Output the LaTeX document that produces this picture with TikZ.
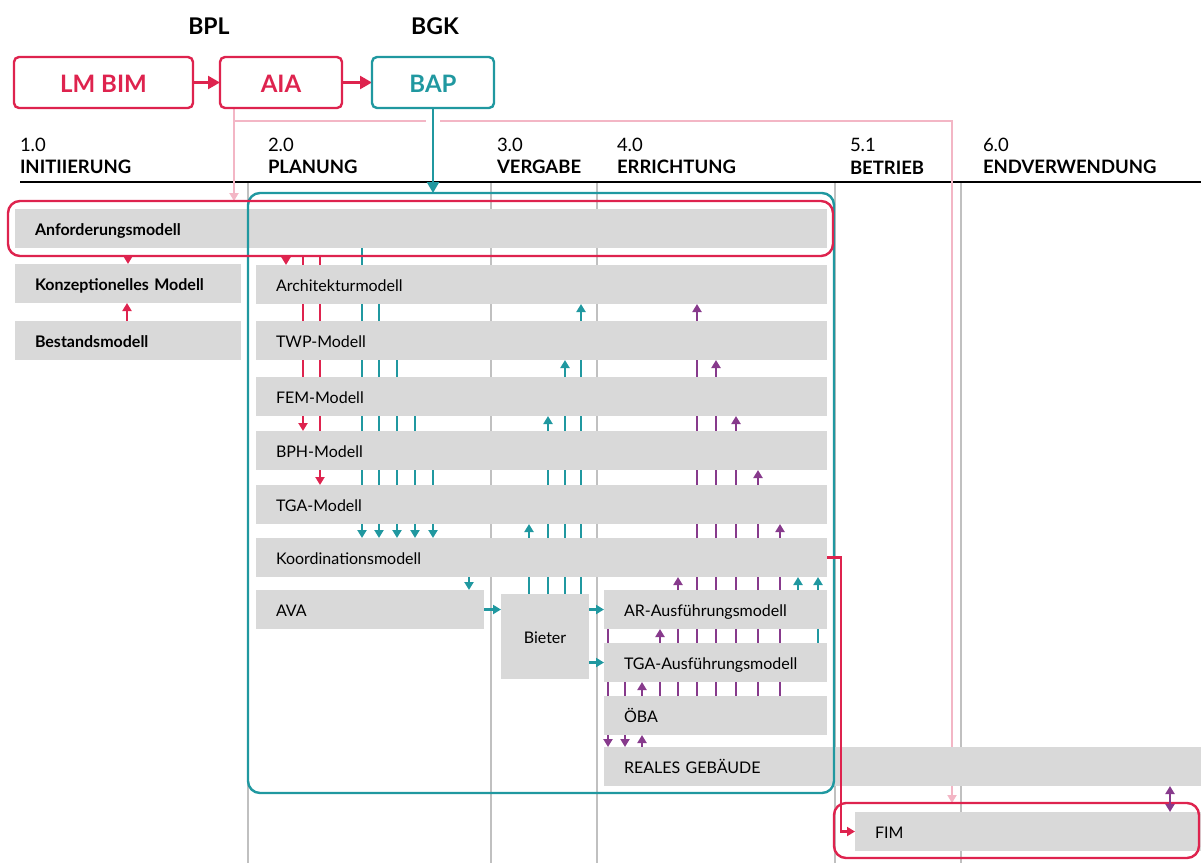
\documentclass[tikz,border=0pt]{standalone}
\usepackage{fontspec}
\setmainfont{Lato}
\usetikzlibrary{arrows.meta, positioning, calc, backgrounds}
\definecolor{crimson}{RGB}{222,35,78}
\definecolor{tealc}{RGB}{32,152,160}
\definecolor{plum}{RGB}{135,58,140}
\definecolor{blush}{RGB}{243,182,197}
\definecolor{boxgray}{RGB}{217,217,217}
\definecolor{rulegray}{RGB}{192,192,192}

\begin{document}
\begin{tikzpicture}[
    x=1pt, y=-1pt,
    every node/.style={inner sep=0pt, outer sep=0pt},
    model/.style={fill=boxgray, anchor=north west, minimum height=39pt, inner xsep=20pt,
                  text width=#1, align=left, text height=13pt, text depth=0pt,
                  font=\fontsize{16}{19}\selectfont},
    keymodel/.style={model=#1, font=\fontsize{16}{19}\selectfont\bfseries},
    topbox/.style={draw=#1, text=#1, line width=2.4pt, rounded corners=5pt, anchor=north west,
                   minimum height=51pt, text height=20pt, text depth=0pt,
                   font=\fontsize{24}{28}\selectfont\bfseries},
    frame/.style={draw=#1, line width=2.4pt, rounded corners=12pt, anchor=north west},
    link/.style={draw=#1, line width=2.4pt, -{Triangle[width=9pt, length=8pt]}},
    plain/.style={draw=#1, line width=2.4pt},
    phnum/.style={anchor=base west, font=\fontsize{18.5}{22}\selectfont},
    phname/.style={anchor=base west, font=\fontsize{18.5}{22}\selectfont\bfseries},
    role/.style={anchor=base, font=\fontsize{23}{26}\selectfont\bfseries}
]
    \useasboundingbox (0,0) rectangle (1201,863);

    % Roles and process boxes on top
    \node[role] (bpl) at (209,34) {BPL};
    \node[role] (bgk) at (435,34) {BGK};
    \node[topbox=crimson, minimum width=179pt] (lmbim) at (14,57) {LM BIM};
    \node[topbox=crimson, minimum width=122pt] (aia) at (220,57) {AIA};
    \node[topbox=tealc, minimum width=122pt] (bap) at (372,57) {BAP};

    % Phases
    \node[phnum] (n1) at (20,151) {1.0};
    \node[phname] (h1) at (20,173) {INITIIERUNG};
    \node[phnum] (n2) at (268,151) {2.0};
    \node[phname] (h2) at (268,173) {PLANUNG};
    \node[phnum] (n3) at (497,151) {3.0};
    \node[phname] (h3) at (497,173) {VERGABE};
    \node[phnum] (n4) at (617,151) {4.0};
    \node[phname] (h4) at (617,173) {ERRICHTUNG};
    \node[phnum] (n5) at (850,151) {5.1};
    \node[phname] (h5) at (850,174) {BETRIEB};
    \node[phnum] (n6) at (983,151) {6.0};
    \node[phname] (h6) at (983,173) {ENDVERWENDUNG};

    % Models
    \node[keymodel=772pt] (anf) at (15,209) {Anforderungsmodell};
    \node[keymodel=186pt] (konz) at (15,264) {Konzeptionelles Modell};
    \node[keymodel=186pt] (best) at (15,321) {Bestandsmodell};
    \node[model=531pt] (arch) at (256,265) {Architekturmodell};
    \node[model=531pt] (twp) at (256,321) {TWP-Modell};
    \node[model=531pt] (fem) at (256,377) {FEM-Modell};
    \node[model=531pt] (bph) at (256,431) {BPH-Modell};
    \node[model=531pt] (tga) at (256,485) {TGA-Modell};
    \node[model=531pt] (koord) at (256,538) {Koordinationsmodell};
    \node[model=188pt] (ava) at (256,590) {AVA};
    \node[model=48pt, align=center, minimum height=85pt] (bieter) at (501,594) {Bieter};
    \node[model=183pt] (arausf) at (604,590) {AR-Ausführungsmodell};
    \node[model=183pt] (tgaausf) at (604,643) {TGA-Ausführungsmodell};
    \node[model=183pt] (oeba) at (604,696) {ÖBA};
    \node[model=557pt] (real) at (604,747) {REALES GEBÄUDE};
    \node[model=306pt] (fim) at (855,812) {FIM};

    % Frames
    \node[frame=tealc, minimum width=586pt, minimum height=600pt] (bapframe) at (248,193) {};
    \node[frame=crimson, minimum width=825pt, minimum height=55pt] (anfframe) at (8,201) {};
    \node[frame=crimson, minimum width=365pt, minimum height=55pt] (fimframe) at (834,803) {};
    \coordinate (fork) at (234,121);

    \begin{scope}[on background layer]
        % phase rules
        \foreach \x in {248,491,597,835,961}
            \draw[rulegray, line width=2.8pt] (\x,183) -- (\x,863);
        \draw[black, line width=2.8pt] (20,182) -- (1201,182);

        % AIA requirements
        \draw[plain=blush] (234,0 |- aia.south) -- (fork);
        \draw[link=blush] (fork) -- (234,0 |- anfframe.north);
        \draw[link=blush] (fork) -- (952,121) -- (952,0 |- fimframe.north);
        \draw[white, line width=14pt] (433,118) -- (433,124);
        \draw[link=tealc, -{Triangle[width=12pt, length=11pt]}] (433,0 |- bap.south) -- (433,0 |- bapframe.north);
        \draw[link=crimson, -{Triangle[width=13pt, length=12pt]}] (lmbim.east) -- (aia.west);
        \draw[link=crimson, -{Triangle[width=13pt, length=12pt]}] (aia.east) -- (bap.west);

        % requirements into models
        \draw[link=crimson] (128,0 |- anfframe.south) -- (128,0 |- konz.north);
        \draw[link=crimson] (127,0 |- best.north) -- (127,0 |- konz.south);
        \foreach \x/\t in {286/arch, 303/bph, 320/tga}
            \draw[link=crimson] (\x,0 |- anfframe.south) -- (\x,0 |- \t.north);

        % planning into coordination
        \foreach \x/\s in {362/anf, 379/arch, 397/twp, 415/fem, 433/bph}
            \draw[link=tealc] (\x,0 |- \s.south) -- (\x,0 |- koord.north);
        \draw[link=tealc] (469,0 |- koord.south) -- (469,0 |- ava.north);
        \draw[link=tealc] (ava.east) -- (ava.east -| bieter.west);
        \draw[link=tealc] (arausf.west -| bieter.east) -- (arausf.west);
        \draw[link=tealc] (tgaausf.west -| bieter.east) -- (tgaausf.west);

        % bidders back to planning
        \foreach \x/\t in {581/arch, 565/twp, 548/fem, 529/tga}
            \draw[link=tealc] (\x,0 |- bieter.north) -- (\x,0 |- \t.south);

        % site supervision feedback
        \foreach \x/\t in {697/arch, 716/twp, 736/fem, 758/bph, 780/tga, 678/koord, 660/arausf, 642/tgaausf}
            \draw[link=plum] (\x,0 |- oeba.north) -- (\x,0 |- \t.south);
        \draw[link=tealc] (798,0 |- arausf.north) -- (798,0 |- koord.south);
        \draw[link=tealc] (818,0 |- tgaausf.north) -- (818,0 |- koord.south);
        \draw[link=plum] (608,0 |- arausf.south) -- (608,0 |- real.north);
        \draw[link=plum] (625,0 |- tgaausf.south) -- (625,0 |- real.north);
        \draw[link=plum] (642,0 |- real.north) -- (642,0 |- oeba.south);
    \end{scope}

    % handover to operation
    \draw[link=crimson] (koord.east) -- (841,0 |- koord.east) -- (841,0 |- fim.west) -- (fim.west);
    \draw[plum, line width=2.4pt, {Triangle[width=9pt, length=8pt]}-{Triangle[width=9pt, length=8pt]}]
        (1170,0 |- real.south) -- (1170,0 |- fim.north);
\end{tikzpicture}
\end{document}
